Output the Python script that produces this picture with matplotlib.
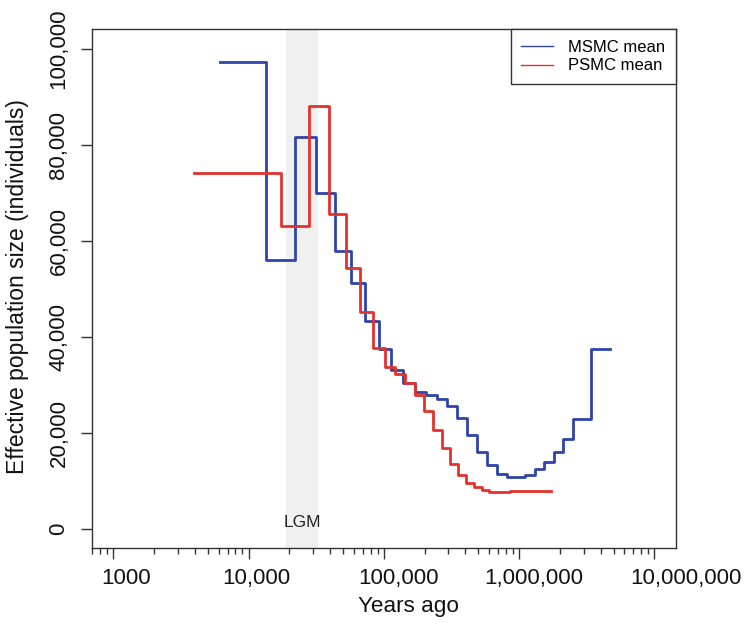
import matplotlib
matplotlib.use('Agg')
import matplotlib.pyplot as plt
from matplotlib.ticker import FixedLocator, LogLocator, NullFormatter
from matplotlib.transforms import ScaledTranslation

plt.rcParams['font.family'] = ['Liberation Sans', 'DejaVu Sans']

# MSMC mean: interval start times (years ago), last entry is the end of the last step
msmc_time = [6195, 13530, 22040, 31660, 43350, 57080, 73140, 91860, 113200,
             139500, 170200, 204200, 246100, 291600, 349400, 414000, 490700,
             581600, 689200, 808500, 1103000, 1308000, 1532000, 1806000,
             2116000, 2482000, 3405000, 4679000]
msmc_ne = [97300, 56000, 81500, 69900, 57800, 51300, 43400, 37400, 33100,
           30300, 28600, 27900, 27100, 25600, 23100, 19600, 16100, 13300,
           11500, 10800, 11250, 12500, 14000, 16100, 18800, 22900, 37500]

# PSMC mean
psmc_time = [3934, 17370, 27770, 39280, 52250, 66860, 82950, 101400, 121200,
             144100, 170200, 199400, 232300, 267900, 308500, 355400, 405000,
             463800, 528800, 601600, 855300, 1136000, 1424000, 1708000]
psmc_ne = [74000, 63000, 88100, 65500, 54400, 45200, 37600, 33800, 32200,
           30500, 27900, 24600, 20600, 16800, 13500, 11250, 9650, 8700,
           8100, 7800, 7900, 8000, 7850]

lgm = (19000, 32500)
xticks = [1000, 10000, 100000, 1000000, 10000000]
xlabels = ['1000', '10,000', '100,000', '1,000,000', '10,000,000']
xlabel_shift = [13, 8, 15, 15, 32]  # pixels, labels sit right of their ticks
yticks = [0, 20000, 40000, 60000, 80000, 100000]
ylabels = ['0', '20,000', '40,000', '60,000', '80,000', '100,000']

blue = '#2f44a8'
red = '#e5312b'
axcol = '#333333'

fig = plt.figure(figsize=(7.45, 6.24), dpi=100)
ax = fig.add_axes([0.1231, 0.1213, 0.7843, 0.8317])

ax.axvspan(lgm[0], lgm[1], color='#f0f0f0', lw=0, zorder=0)
ax.text((lgm[0] * lgm[1]) ** 0.5, 1300, 'LGM', ha='center', va='center',
        fontsize=12.5, color='#222222')

ax.step(msmc_time, msmc_ne + [msmc_ne[-1]], where='post', color=blue, lw=2,
        label='MSMC mean', zorder=2)
ax.step(psmc_time, psmc_ne + [psmc_ne[-1]], where='post', color=red, lw=2,
        label='PSMC mean', zorder=3)

ax.set_xscale('log')
ax.set_xlim(10 ** 2.84, 10 ** 7.16)
ax.set_ylim(-4000, 104000)

ax.xaxis.set_major_locator(FixedLocator(xticks))
ax.set_xticklabels(xlabels)
ax.xaxis.set_minor_locator(LogLocator(base=10, subs=range(2, 10), numticks=20))
ax.xaxis.set_minor_formatter(NullFormatter())
ax.set_yticks(yticks)
ax.set_yticklabels(ylabels, rotation=90, va='center')

ax.tick_params(axis='both', which='major', direction='out', length=8,
               width=1, color=axcol, labelsize=16, labelcolor='#111111')
ax.tick_params(axis='x', which='major', pad=6)
ax.tick_params(axis='y', which='major', pad=8)
ax.tick_params(axis='x', which='minor', direction='out', length=4, width=1,
               color=axcol)

for lab, dx in zip(ax.get_xticklabels(), xlabel_shift):
    lab.set_transform(lab.get_transform() +
                      ScaledTranslation(dx / 100, 0, fig.dpi_scale_trans))

for s in ax.spines.values():
    s.set_color(axcol)
    s.set_linewidth(1)

fig.text(408.8 / 745, 1 - 612 / 624, 'Years ago', ha='center', va='baseline',
         fontsize=16.2, color='#111111')
fig.text(18 / 745, 1 - 287 / 624, 'Effective population size (individuals)',
         ha='center', va='center', rotation=90, fontsize=16.5, color='#111111')

leg = ax.legend(loc='upper right', borderaxespad=0, fancybox=False,
                fontsize=12, handlelength=1.9, handletextpad=0.9,
                labelspacing=0.2, borderpad=0.65, framealpha=1)
leg.get_frame().set_edgecolor(axcol)
leg.get_frame().set_linewidth(1)
for line in leg.get_lines():
    line.set_linewidth(1)

fig.savefig('out.png', dpi=100)
